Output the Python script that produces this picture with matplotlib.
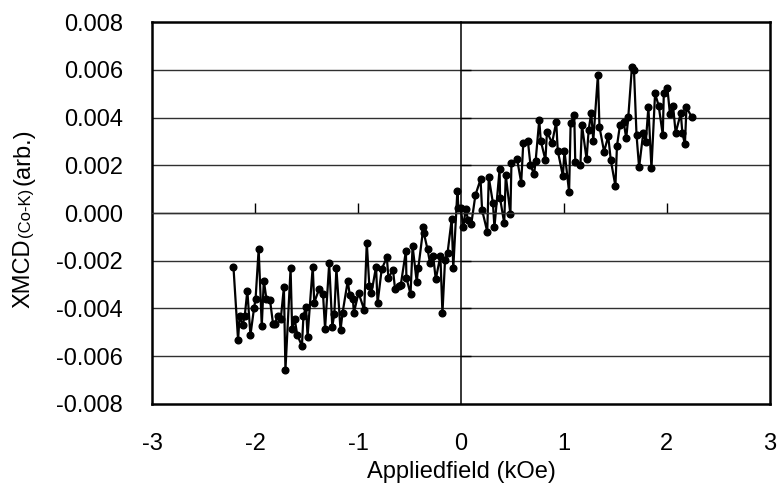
import numpy as np
import matplotlib.pyplot as plt

plt.rcParams['font.family'] = ['Liberation Sans', 'DejaVu Sans']
plt.rcParams['axes.unicode_minus'] = False

# applied field (kOe) and XMCD signal
field = [-2.21, -2.165, -2.15, -2.12, -2.10, -2.075, -2.045, -2.01, -1.995, -1.965,
         -1.935, -1.915, -1.89, -1.855, -1.825, -1.81, -1.78, -1.75, -1.72, -1.705,
         -1.655, -1.64, -1.615, -1.59, -1.545, -1.53, -1.505, -1.49, -1.44, -1.425,
         -1.38, -1.34, -1.32, -1.28, -1.25, -1.23, -1.21, -1.17, -1.15, -1.10,
         -1.08, -1.05, -1.04, -0.995, -0.94, -0.915, -0.89, -0.87, -0.825, -0.81,
         -0.77, -0.72, -0.705, -0.66, -0.64, -0.60, -0.585, -0.535, -0.53, -0.49,
         -0.47, -0.43, -0.415, -0.365, -0.36, -0.325, -0.30, -0.27, -0.245, -0.20,
         -0.18, -0.155, -0.13, -0.09, -0.075, -0.035, -0.025, -0.003, 0.023, 0.045,
         0.07, 0.10, 0.14, 0.19, 0.205, 0.255, 0.27, 0.31, 0.325, 0.375,
         0.38, 0.42, 0.435, 0.48, 0.49, 0.545, 0.585, 0.605, 0.65, 0.675,
         0.71, 0.725, 0.76, 0.775, 0.82, 0.835, 0.885, 0.925, 0.94, 0.99,
         1.005, 1.05, 1.065, 1.10, 1.11, 1.16, 1.175, 1.22, 1.24, 1.265,
         1.285, 1.33, 1.345, 1.39, 1.43, 1.455, 1.50, 1.515, 1.545, 1.58,
         1.605, 1.625, 1.66, 1.68, 1.705, 1.73, 1.77, 1.795, 1.82, 1.85,
         1.885, 1.92, 1.96, 1.97, 2.005, 2.03, 2.06, 2.085, 2.135, 2.15,
         2.175, 2.19, 2.24]
xmcd = [-0.00225, -0.00532, -0.00431, -0.00469, -0.00431, -0.00325, -0.00512, -0.00399, -0.0036, -0.00151,
        -0.00473, -0.00283, -0.00359, -0.00364, -0.00466, -0.00465, -0.00431, -0.00443, -0.00311, -0.00657,
        -0.00232, -0.00486, -0.00445, -0.00511, -0.00557, -0.00431, -0.00392, -0.00518, -0.00225, -0.00376,
        -0.0032, -0.0034, -0.00485, -0.00211, -0.00476, -0.00423, -0.00232, -0.0049, -0.00418, -0.00285,
        -0.00343, -0.00361, -0.00418, -0.00334, -0.00406, -0.00124, -0.00306, -0.00336, -0.00225, -0.00378,
        -0.00235, -0.00186, -0.00271, -0.00239, -0.0032, -0.00306, -0.00302, -0.00159, -0.00271, -0.0034,
        -0.00138, -0.00288, -0.00232, -0.0006, -0.00085, -0.00152, -0.00211, -0.0018, -0.00278, -0.0018,
        -0.0042, -0.00197, -0.00166, -0.00025, -0.00232, 0.00093, 0.00022, 0.0002, -0.0006, 0.00015,
        -0.00029, -0.00046, 0.00075, 0.00141, 0.00013, -0.00078, 0.0015, 0.00043, -0.0006, 0.00183,
        0.00061, -0.00043, 0.00159, -0.00005, 0.00208, 0.00226, 0.00127, 0.00294, 0.00301, 0.00201,
        0.00162, 0.00218, 0.0039, 0.00303, 0.00222, 0.0034, 0.00294, 0.00382, 0.00261, 0.00155,
        0.00261, 0.00088, 0.00376, 0.0041, 0.00215, 0.00201, 0.00369, 0.00225, 0.00348, 0.0042,
        0.00303, 0.0058, 0.00361, 0.00257, 0.00322, 0.00222, 0.00113, 0.00281, 0.00371, 0.00382,
        0.00313, 0.00403, 0.0061, 0.006, 0.00327, 0.00191, 0.00336, 0.00296, 0.00443, 0.00187,
        0.00501, 0.0045, 0.00327, 0.00501, 0.00522, 0.00413, 0.00448, 0.00336, 0.00418, 0.00336,
        0.00288, 0.00443, 0.00403]

xticks = [-3, -2, -1, 0, 1, 2, 3]
yticks = np.arange(-0.008, 0.0081, 0.002)

fig = plt.figure(figsize=(7.8, 4.92), dpi=100)
rect = [0.195, 0.179, 0.792, 0.776]
ax = fig.add_axes(rect)

ax.set_xlim(-3, 3)
ax.set_ylim(-0.008, 0.008)
ax.set_xticks(xticks)
ax.set_yticks(yticks)
ax.set_yticklabels(['%.3f' % v for v in yticks])
ax.tick_params(length=0, labelsize=17, pad=21)
ax.tick_params(axis='x', pad=21)
for v in yticks[1:-1]:
    ax.axhline(v, color='#303030', lw=1.0, zorder=1)
for s in ax.spines.values():
    s.set_linewidth(1.8)

ax.plot(field, xmcd, color='black', lw=1.6, marker='o', ms=4.8, zorder=3)

# axis crossing at zero, ticks pointing inward
ax0 = fig.add_axes(rect)
ax0.patch.set_visible(False)
ax0.set_xlim(-3, 3)
ax0.set_ylim(-0.008, 0.008)
for k in ['top', 'right', 'bottom']:
    ax0.spines[k].set_visible(False)
ax0.spines['bottom'].set_position(('data', 0))
ax0.spines['left'].set_position(('data', 0))
ax0.spines['left'].set_linewidth(1.1)
ax0.set_xticks([-2, -1, 1, 2])
ax0.set_yticks(yticks[1:-1])
ax0.set_xticklabels([])
ax0.set_yticklabels([])
ax0.tick_params(direction='in', length=7, width=1)
ax0.axhline(0, color='#303030', lw=1.0)

ax.set_xlabel('Appliedfield (kOe)', fontsize=17, labelpad=4)

t1 = fig.text(0.03, 0.374, 'XMCD', rotation=90, fontsize=17, ha='center', va='bottom')
t2 = ax.annotate('(Co-K) ', xy=(1, 1), xycoords=t1, rotation=90, fontsize=12,
                 ha='right', va='bottom')
t3 = ax.annotate('(arb.)', xy=(1, 1), xycoords=t2, rotation=90, fontsize=17,
                 ha='right', va='bottom')

fig.savefig('out.png', dpi=100)
